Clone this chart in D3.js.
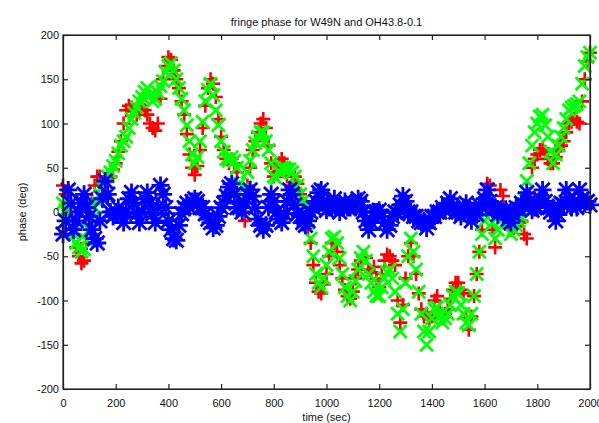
<!DOCTYPE html>
<html>
<head>
<meta charset="utf-8">
<script src="https://cdn.jsdelivr.net/npm/d3@7"></script>
<style>
  body { margin: 0; background: #fff; }
  svg { display: block; font-family: "Liberation Sans", Arial, sans-serif; }
</style>
</head>
<body>
<div id="chart"></div>
<script>
// sample times (sec), one reading every 10 s
var times = d3.range(0, 2001, 10);

// fringe phase (deg)
var redPhase = [30, 20, 5, -10, -25, -40, -50, -58, -55, -35,
    -10, 15, 30, 40, 40, 32, 35, 38, 40, 48,
    55, 68, 80, 100, 115, 120, 118, 115, 110, 115,
    120, 115, 110, 100, 95, 92, 100, 128, 150, 165,
    175, 172, 160, 150, 140, 125, 110, 88, 65, 50,
    42, 52, 70, 95, 120, 140, 150, 145, 130, 105,
    85, 70, 60, 55, 60, 55, 45, 20, 5, -10,
    30, 50, 70, 80, 90, 100, 105, 95, 75, 55,
    40, 45, 55, 60, 55, 40, 20, 30, 40, 32,
    20, 10, 0, -18, -35, -60, -80, -90, -92, -82,
    -70, -50, -35, -35, -45, -60, -75, -88, -95, -98,
    -90, -75, -65, -55, -50, -52, -65, -68, -62, -75,
    -85, -70, -55, -48, -50, -55, -60, -100, -125, -105,
    -75, -50, -35, -50, -70, -92, -110, -118, -115, -120,
    -118, -100, -95, -110, -120, -115, -110, -98, -88, -80,
    -80, -88, -92, -120, -133, -118, -95, -70, -45, -20,
    10, 32, 30, -20, -40, 5, 25, 18, 0, -10,
    -20, -18, -15, -12, -10, -25, -30, 20, 50, 60,
    65, 70, 72, 68, 60, 55, 55, 62, 70, 75,
    80, 90, 100, 102, 105, 102, 100, 125, 150, 170,
    180];

var greenPhase = [10, 2, -5, -15, -25, -35, -40, -45, -42, -32,
    -20, -8, 5, 12, 20, 28, 35, 40, 45, 52,
    58, 66, 75, 80, 85, 95, 105, 112, 118, 125,
    130, 136, 140, 132, 125, 128, 135, 142, 148, 158,
    165, 168, 160, 150, 140, 128, 115, 98, 80, 65,
    55, 62, 80, 102, 125, 138, 145, 132, 115, 98,
    80, 68, 60, 58, 62, 58, 50, 32, 15, 28,
    45, 58, 70, 78, 85, 90, 90, 80, 70, 55,
    40, 38, 45, 50, 50, 48, 48, 45, 40, 30,
    20, 12, 5, -12, -30, -50, -70, -80, -85, -75,
    -60, -45, -30, -28, -35, -52, -70, -85, -95, -100,
    -90, -78, -65, -52, -45, -55, -70, -80, -90, -95,
    -95, -85, -75, -68, -65, -75, -90, -115, -135, -110,
    -80, -50, -30, -45, -65, -90, -115, -135, -150, -135,
    -120, -110, -108, -118, -125, -120, -115, -105, -95, -90,
    -92, -105, -115, -125, -128, -115, -95, -70, -45, -25,
    -10, 0, 8, -12, -30, -20, -10, -3, 0, -12,
    -25, -20, -15, -10, -5, 15, 35, 55, 75, 90,
    100, 108, 110, 98, 85, 68, 55, 65, 75, 85,
    95, 105, 115, 118, 120, 122, 125, 145, 165, 175,
    180];

var bluePhase = [-25, -10, 25, 10, -20, -10, 0, 10, 20, 5,
    -5, -20, -30, -35, -10, 15, 35, 20, 0, -5,
    0, 5, -5, -12, 0, 15, 22, 10, -2, -12,
    0, 15, 22, 10, -2, -12, 5, 30, 20, 5,
    -10, -20, -30, -32, -15, -2, 5, 10, 5, 12,
    15, 12, 5, 5, -2, -8, -12, -18, -15, -5,
    5, 10, 18, 28, 32, 20, 5, 5, 0, 10,
    20, 25, 18, 5, -8, -15, -20, -15, 5, 20,
    12, 0, -8, -12, -2, 12, 25, 20, 8, -2,
    -5, -12, -15, -10, 0, 5, 12, 22, 25, 12,
    2, 5, 5, 15, 8, 0, 5, 12, 5, 5,
    10, 5, 15, 12, 0, -10, -20, -12, 0, 0,
    2, -5, -12, -20, -15, -5, 0, -2, 8, 18,
    12, 0, 0, -5, -5, -10, -12, -10, -18, -12,
    -5, -5, 0, 0, 5, 2, 10, 15, 5, 0,
    0, -5, 5, 10, 0, -10, 0, -3, 8, 5,
    15, 25, 12, 3, 5, -3, 2, 0, 3, -8,
    -12, -3, 5, 3, 10, 8, 22, 12, 2, 5,
    5, 15, 25, 12, 5, 0, 5, -10, -3, 10,
    8, 25, 15, 5, 10, 5, 25, 15, 10, 12,
    8];

var xTicks = d3.range(0, 2001, 200);
var yTicks = d3.range(-200, 201, 50);

function init() {
    var w = 599;
    var h = 423;
    var left = 63, right = 590, top = 35, bottom = 389;

    var xScale = d3.scaleLinear().domain([0, 2000]).range([left, right]);
    var yScale = d3.scaleLinear().domain([-200, 200]).range([bottom, top]);

    var svg = d3.select("#chart")
        .append("svg")
        .attr("width", w)
        .attr("height", h);

    // marker shapes, gnuplot style
    function plus(s) { return "M" + (-s) + ",0H" + s + "M0," + (-s) + "V" + s; }
    function cross(s) { return "M" + (-s) + "," + (-s) + "L" + s + "," + s + "M" + (-s) + "," + s + "L" + s + "," + (-s); }
    function star(s) { return plus(s) + cross(s * 0.8); }

    function drawSeries(values, shape, color, sw) {
        svg.append("g")
            .selectAll("path")
            .data(values)
            .enter()
            .append("path")
            .attr("d", shape)
            .attr("transform", function(d, i) {
                return "translate(" + xScale(times[i]) + "," + yScale(d) + ")";
            })
            .attr("stroke", color)
            .attr("stroke-width", sw)
            .attr("fill", "none");
    }

    drawSeries(redPhase, plus(7), "#ff0000", 2.6);
    drawSeries(greenPhase, cross(6.5), "#00ff00", 2.8);
    drawSeries(bluePhase, star(9), "#0000ff", 2.8);

    var fmt = function(d) { return String(d); };

    // axes with inward ticks
    var bottomAxis = svg.append("g")
        .attr("transform", "translate(0," + bottom + ")")
        .call(d3.axisBottom(xScale).tickValues(xTicks).tickFormat(fmt).tickSizeInner(-5).tickSizeOuter(0).tickPadding(10));
    var leftAxis = svg.append("g")
        .attr("transform", "translate(" + left + ",0)")
        .call(d3.axisLeft(yScale).tickValues(yTicks).tickFormat(fmt).tickSizeInner(-5).tickSizeOuter(0).tickPadding(4));
    var topAxis = svg.append("g")
        .attr("transform", "translate(0," + top + ")")
        .call(d3.axisTop(xScale).tickValues(xTicks).tickSizeInner(-5).tickSizeOuter(0).tickFormat(""));
    var rightAxis = svg.append("g")
        .attr("transform", "translate(" + right + ",0)")
        .call(d3.axisRight(yScale).tickValues(yTicks).tickSizeInner(-5).tickSizeOuter(0).tickFormat(""));

    [bottomAxis, leftAxis, topAxis, rightAxis].forEach(function(a) {
        a.selectAll("text")
            .attr("font-family", "Liberation Sans, Arial, sans-serif")
            .attr("font-size", "11px")
            .attr("fill", "#111");
        a.selectAll("line, path").attr("stroke", "#222").attr("stroke-width", 1.2);
    });

    svg.append("rect")
        .attr("x", left)
        .attr("y", top)
        .attr("width", right - left)
        .attr("height", bottom - top)
        .attr("fill", "none")
        .attr("stroke", "#222")
        .attr("stroke-width", 1.2);

    // title
    svg.append("text")
        .attr("x", (left + right) / 2)
        .attr("y", 26)
        .attr("text-anchor", "middle")
        .attr("font-size", "11px")
        .attr("fill", "#111")
        .text("fringe phase for W49N and OH43.8-0.1");

    // x label
    svg.append("text")
        .attr("x", (left + right) / 2)
        .attr("y", 421)
        .attr("text-anchor", "middle")
        .attr("font-size", "11px")
        .attr("fill", "#111")
        .text("time (sec)");

    // y label
    svg.append("text")
        .attr("transform", "translate(26," + yScale(0) + ") rotate(-90)")
        .attr("text-anchor", "middle")
        .attr("font-size", "11px")
        .attr("fill", "#111")
        .text("phase (deg)");
}

window.onload = init;
</script>
</body>
</html>
